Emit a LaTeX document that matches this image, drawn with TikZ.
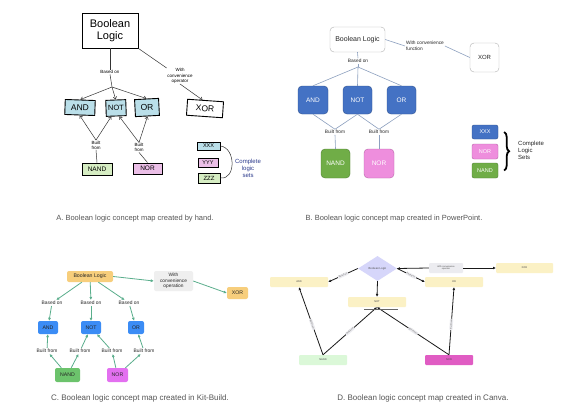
\documentclass[tikz,border=0pt]{standalone}
\usepackage{fontspec}
\setmainfont{Liberation Sans}
\usetikzlibrary{arrows.meta,shapes.geometric,decorations.pathreplacing,calc}
\definecolor{capgray}{HTML}{555555}
\definecolor{ablue}{HTML}{BADFE9}
\definecolor{agreen}{HTML}{D6EDC3}
\definecolor{apink}{HTML}{EBBFE7}
\definecolor{ainkblue}{HTML}{2B3A8C}
\definecolor{bblue}{HTML}{4472C4}
\definecolor{bbluedk}{HTML}{2F528F}
\definecolor{bgreen}{HTML}{70AD47}
\definecolor{bgreendk}{HTML}{507E32}
\definecolor{bpink}{HTML}{EE8EDD}
\definecolor{bpinkdk}{HTML}{B766A8}
\definecolor{bline}{HTML}{8DA0BF}
\definecolor{bborder}{HTML}{B0B0B0}
\definecolor{corange}{HTML}{F7CE7C}
\definecolor{cblue}{HTML}{3B8CF5}
\definecolor{cgreen}{HTML}{6CC36C}
\definecolor{cmag}{HTML}{E370F0}
\definecolor{cgray}{HTML}{EFEFEF}
\definecolor{cteal}{HTML}{5AAE8C}
\definecolor{dyellow}{HTML}{FBF1C5}
\definecolor{dlav}{HTML}{D6D6FA}
\definecolor{dgreen}{HTML}{DBF8D8}
\definecolor{dmag}{HTML}{E05CC3}
\definecolor{dlabel}{HTML}{ECECF0}
\tikzset{
  fs/.style={font={\pgfmathsetmacro\fsb{#1*1.15}\fontsize{#1}{\fsb}\selectfont}},
  caption/.style={fs=7.5, text=capgray},
  % panel A
  hbox/.style={draw=black, line width=0.9pt, inner sep=0pt, fs=8.5},
  hlab/.style={fs=4.5, align=center, inner sep=0.5pt},
  hline/.style={draw=black!80, line width=0.5pt},
  harrow/.style={hline, -{Straight Barb[length=2.5pt,width=3.5pt]}},
  % panel B
  bbox/.style={rounded corners=4pt, inner sep=0pt, fs=6.5, text=white},
  blab/.style={fs=4.8, text=black!85, inner sep=0.8pt},
  bln/.style={draw=bline, line width=0.6pt},
  % panel C
  cbox/.style={rounded corners=2pt, inner sep=0pt, fs=5.2, text=black!85},
  clab/.style={fs=4.9, text=black!85, inner sep=1pt},
  carr/.style={draw=cteal, line width=0.8pt, -{Latex[length=3pt,width=3pt]}},
  % panel D
  dbox/.style={rounded corners=1pt, inner sep=0pt, fs=2.6, text=black!70},
  dlab/.style={fill=dlabel, rounded corners=0.5pt, fs=2.2, text=black!60, inner sep=0.8pt, align=center},
  darr/.style={draw=black!90, line width=0.8pt, -{Latex[length=2.8pt,width=2.8pt]}},
}
\begin{document}
\begin{tikzpicture}[x=1pt,y=-1pt]
\useasboundingbox[fill=white] (0,0) rectangle (562,420);

% ================= Panel A =================
\node[hbox, minimum width=56, minimum height=35, fs=11, align=center] (aBL) at (110,30.5) {Boolean\\Logic};
\node[hbox, fill=ablue, minimum width=30, minimum height=15, rotate=-2] (aAND) at (80,107.5) {AND};
\node[hbox, fill=ablue, minimum width=20, minimum height=16, rotate=2, fs=7.5] (aNOT) at (116,108) {NOT};
\node[hbox, fill=ablue, minimum width=24, minimum height=17, rotate=3] (aOR) at (147,107.5) {OR};
\node[hbox, fill=white, minimum width=36, minimum height=16, rotate=-4] (aXOR) at (205,108.5) {XOR};
\node[hbox, fill=agreen, minimum width=30, minimum height=12, fs=6.5] (aNAND) at (97,169) {NAND};
\node[hbox, fill=apink, minimum width=29, minimum height=11, fs=6.5] (aNOR) at (147.5,168.5) {NOR};
\node[hbox, fill=ablue, minimum width=23, minimum height=8, fs=5.5] (aXXX) at (208.5,146) {XXX};
\node[hbox, fill=apink, minimum width=20, minimum height=9, fs=5.5] (aYYY) at (208,162.5) {YYY};
\node[hbox, fill=agreen, minimum width=22, minimum height=10, fs=6] (aZZZ) at (209,178) {ZZZ};
\node[hlab] (aBased) at (110,72) {Based on};
\node[hlab] (aWith) at (180,76) {With\\convenience\\operator};
\node[hlab] (aBuilt1) at (96,145) {Built\\from};
\node[hlab] (aBuilt2) at (139,147.5) {Built\\from};
\node[fs=6, align=center, text=ainkblue, inner sep=0pt] (aSets) at (248,168) {Complete\\logic\\sets};
\coordinate (aJ) at (112,87);

\draw[hline] (aBL.south) -- (aBased.north);
\draw[hline] (aBased.south) -- (aJ);
\draw[harrow] (aJ) -- (aAND.north);
\draw[harrow] (aJ) -- (aNOT.north);
\draw[harrow] (aJ) -- (aOR.north);
\draw[hline] (aBL.south east) -- (aWith.north west);
\draw[harrow] (aWith.south) -- ($(aXOR.north)+(-3,0)$);
\draw[harrow] (aBuilt1.north) -- (aAND.south);
\draw[harrow] (aBuilt1.north) -- ($(aNOT.south)+(-5,0)$);
\draw[harrow] (aBuilt2.north) -- ($(aNOT.south)+(3,0)$);
\draw[harrow] (aBuilt2.north) -- (aOR.south);
\draw[hline] (aBuilt1.south) -- (aNAND.north);
\draw[hline] (aBuilt2.south) -- (aNOR.north);
\draw[hline] (aXXX.east) .. controls (236,148) and (236,180) .. (aZZZ.east);

\node[caption] (capA) at (135,219) {A. Boolean logic concept map created by hand.};

% ================= Panel B =================
\node[bbox, draw=bborder, fill=white, text=black!85, fs=7, minimum width=55, minimum height=25] (bBL) at (357.5,39.5) {Boolean Logic};
\node[blab, anchor=west, align=left] (bWith) at (405,46) {With convenience\\function};
\node[bbox, draw=bborder, fill=white, text=black!85, fs=6, minimum width=29, minimum height=29] (bXOR) at (484.5,57.5) {XOR};
\node[blab] (bBased) at (358,61) {Based on};
\node[bbox, draw=bbluedk, fill=bblue, minimum width=30, minimum height=28] (bAND) at (313,100) {AND};
\node[bbox, draw=bbluedk, fill=bblue, minimum width=29, minimum height=28] (bNOT) at (357.5,100) {NOT};
\node[bbox, draw=bbluedk, fill=bblue, minimum width=29, minimum height=28] (bOR) at (401.5,100) {OR};
\node[blab] (bBuilt1) at (335,132) {Built from};
\node[blab] (bBuilt2) at (379,132) {Built from};
\node[bbox, draw=bgreendk, fill=bgreen, minimum width=29, minimum height=29] (bNAND) at (335.5,163.5) {NAND};
\node[bbox, draw=bpinkdk, fill=bpink, minimum width=30, minimum height=29] (bNOR) at (379,163.5) {NOR};
\node[bbox, rounded corners=2pt, draw=bbluedk, fill=bblue, minimum width=26, minimum height=14, fs=5.5] (bXXX) at (485,132) {XXX};
\node[bbox, rounded corners=2pt, draw=bpinkdk, fill=bpink, minimum width=26, minimum height=15, fs=5.5] (bNORl) at (485,151.5) {NOR};
\node[bbox, rounded corners=2pt, draw=bgreendk, fill=bgreen, minimum width=26, minimum height=15, fs=5.5] (bNANDl) at (485,170.5) {NAND};
\node[fs=6, text=black!85, anchor=west, align=left, inner sep=0pt] (bSets) at (518,150) {Complete\\Logic\\Sets};
\coordinate (bJ) at (358,67);

\draw[bln] (bBL.south) -- (bBased.north);
\draw[bln] (bBased.south) -- (bJ);
\draw[bln] (bJ) -- (bAND.north);
\draw[bln] (bJ) -- (bNOT.north);
\draw[bln] (bJ) -- (bOR.north);
\draw[bln] (bBL.east) -- (bWith.west);
\draw[bln] (bWith.east) -- (bXOR.west);
\draw[bln] (bAND.south) -- (bBuilt1.north);
\draw[bln] (bNOT.south) -- (bBuilt1.north);
\draw[bln] (bNOT.south) -- (bBuilt2.north);
\draw[bln] (bOR.south) -- (bBuilt2.north);
\draw[bln] (bBuilt1.south) -- (bNAND.north);
\draw[bln] (bBuilt2.south) -- (bNOR.north);
\draw[line width=1.8pt, decorate, decoration={brace, amplitude=5pt}] ($(bXXX.east)+(6,0)$) -- ($(bNANDl.east)+(6,0)$);

\node[caption] (capB) at (394,219) {B. Boolean logic concept map created in PowerPoint.};

% ================= Panel C =================
\node[cbox, fill=corange, minimum width=46, minimum height=11] (cBL) at (90,276.5) {Boolean Logic};
\node[cbox, fill=cgray, fs=4.8, align=center, minimum width=39, minimum height=20] (cWith) at (173.5,281) {With\\convenience\\operation};
\node[cbox, fill=corange, minimum width=21, minimum height=12] (cXOR) at (237.5,293) {XOR};
\node[clab] (cB1) at (52,303) {Based on};
\node[clab] (cB2) at (91,303) {Based on};
\node[clab] (cB3) at (129,303) {Based on};
\node[cbox, fill=cblue, minimum width=20, minimum height=13] (cAND) at (48,327.5) {AND};
\node[cbox, fill=cblue, minimum width=20, minimum height=13] (cNOT) at (91,327.5) {NOT};
\node[cbox, fill=cblue, minimum width=16, minimum height=13] (cOR) at (136,327.5) {OR};
\node[clab] (cF1) at (47,351) {Built from};
\node[clab] (cF2) at (80,351) {Built from};
\node[clab] (cF3) at (112,351) {Built from};
\node[clab] (cF4) at (144,351) {Built from};
\node[cbox, fill=cgreen, minimum width=25, minimum height=14] (cNAND) at (67.5,375) {NAND};
\node[cbox, fill=cmag, minimum width=21, minimum height=14] (cNOR) at (117.5,375) {NOR};

\draw[carr] (cBL.east) -- (cWith.west);
\draw[carr] (cWith.east) -- (cXOR.west);
\draw[carr] (cBL) -- (cB1);
\draw[carr] (cBL) -- (cB2);
\draw[carr] (cBL) -- (cB3);
\draw[carr] (cB1) -- (cAND);
\draw[carr] (cB2) -- (cNOT);
\draw[carr] (cB3) -- (cOR);
\draw[carr] (cF1) -- (cAND);
\draw[carr] (cF2) -- (cNOT);
\draw[carr] (cF3) -- (cNOT);
\draw[carr] (cF4) -- (cOR);
\draw[carr] (cNAND) -- (cF1);
\draw[carr] (cNAND) -- (cF2);
\draw[carr] (cNOR) -- (cF3);
\draw[carr] (cNOR) -- (cF4);

\node[caption, fs=8] (capC) at (140,398) {C. Boolean logic concept map created in Kit-Build.};

% ================= Panel D =================
\node[diamond, fill=dlav, inner sep=0pt, minimum width=39, minimum height=25, fs=2.8, text=black!70] (dBL) at (377.5,268.5) {Boolean Logic};
\node[dbox, fill=dyellow, minimum width=58, minimum height=10] (dAND) at (299,282) {AND};
\node[dbox, fill=dyellow, minimum width=58, minimum height=10] (dOR) at (454,282) {OR};
\node[dbox, fill=dyellow, minimum width=58, minimum height=10] (dNOT) at (377,302) {NOT};
\node[dbox, fill=dyellow, minimum width=57, minimum height=10] (dXOR) at (524.5,268) {XOR};
\node[dbox, fill=dlabel, align=center, fs=2.2, minimum width=34, minimum height=10] (dWith) at (446,268) {With convenience\\operator};
\node[dbox, fill=dgreen, minimum width=48, minimum height=10] (dNAND) at (323,360) {NAND};
\node[dbox, fill=dmag, minimum width=48, minimum height=10] (dNOR) at (449,360) {NOR};

\draw[darr] (dBL.west) -- node[dlab, sloped] {Based on} (dAND.east);
\draw[darr] (dBL.east) -- node[dlab, sloped] {Based on} (dOR.west);
\draw[darr] (dWith.west) -- (dBL.east);
\draw[darr] (dWith.east) -- (dXOR.west);
\draw[darr] (dBL.south) -- (dNOT.north);
\draw[darr] (dNAND.north) -- node[dlab, sloped, pos=0.45] {Built from} (dAND.south);
\draw[darr] (dNAND.north) -- node[dlab, sloped] {Built from} (dNOT.south);
\draw[darr] (dNOR.north) -- node[dlab, sloped] {Built from} (dNOT.south);
\draw[darr] (dNOR.north) -- node[dlab, sloped, pos=0.45] {Built from} (dOR.south);
\draw[black!60, line width=0.4pt] ($(dNOT.south)+(-13,2)$) -- ($(dNOT.south)+(21,2)$);

\node[caption, fs=8] (capD) at (423,398) {D. Boolean logic concept map created in Canva.};
\end{tikzpicture}
\end{document}
